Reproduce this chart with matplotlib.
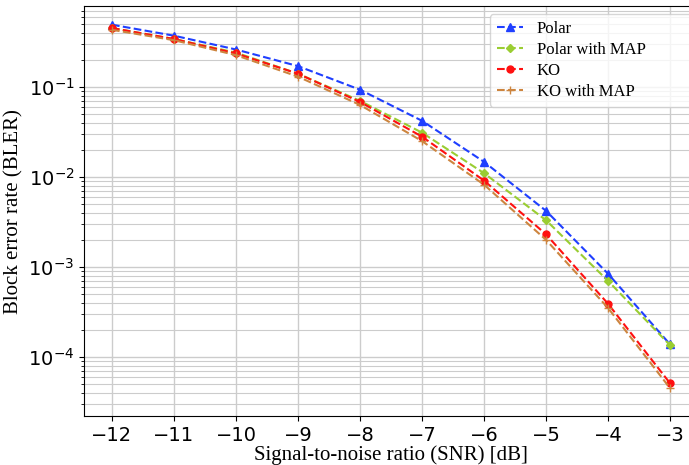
import matplotlib
matplotlib.use("Agg")
import matplotlib.pyplot as plt

snr = [-12, -11, -10, -9, -8, -7, -6, -5, -4, -3]
polar = [0.49, 0.37, 0.26, 0.17, 0.093, 0.042, 0.0147, 0.0042, 8.4e-4, 1.38e-4]
polar_map = [0.45, 0.34, 0.24, 0.14, 0.07, 0.031, 0.011, 0.0033, 7.0e-4, 1.35e-4]
ko = [0.45, 0.34, 0.235, 0.14, 0.068, 0.028, 0.0091, 0.0023, 3.9e-4, 5.1e-5]
ko_map = [0.43, 0.33, 0.225, 0.13, 0.063, 0.025, 0.0082, 0.0020, 3.5e-4, 4.5e-5]

serif = ["Liberation Serif", "DejaVu Serif"]

fig = plt.figure(figsize=(6.89, 4.65), dpi=100)
ax = fig.add_axes([0.122, 0.105, 0.891, 0.882])

ax.plot(snr, polar, "--", color="#1f3fff", marker="^", ms=5.5, lw=1.5, label="Polar")
ax.plot(snr, polar_map, "--", color="#9acd32", marker="D", ms=4.5, lw=1.5, label="Polar with MAP")
ax.plot(snr, ko, "--", color="#ff1010", marker="o", ms=5, lw=1.5, label="KO")
ax.plot(snr, ko_map, "--", color="#cd853f", marker="+", ms=6, lw=1.5, label="KO with MAP")

ax.set_yscale("log")
ax.set_xlim(-12.45, -2.55)
ax.set_ylim(2.2e-5, 0.79)
ax.set_xticks(snr)
ax.grid(True, which="major", color="#cccccc", lw=1.0)
ax.grid(True, which="minor", color="#cccccc", lw=0.8)
ax.tick_params(axis="both", which="major", labelsize=14)

ax.set_xlabel("Signal-to-noise ratio (SNR) [dB]", family=serif, fontsize=15, labelpad=0)
ax.set_ylabel("Block error rate (BLER)", family=serif, fontsize=15, labelpad=3)

# legend box runs off the right edge in the original
ax.legend(loc="upper left", prop={"family": serif, "size": 12},
          bbox_to_anchor=(0.661, 0.5, 0.36, 0.48), mode="expand", borderaxespad=0,
          labelspacing=0.3, handlelength=1.6)

fig.savefig("out.png", dpi=100)
